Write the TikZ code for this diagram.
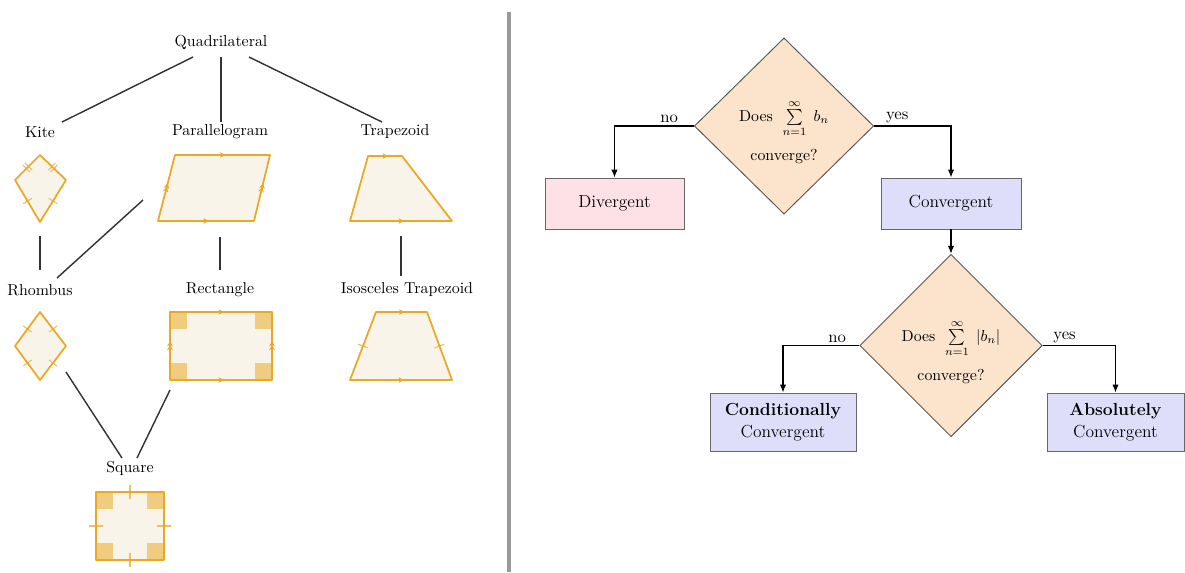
\documentclass[tikz,border=0pt]{standalone}
\usetikzlibrary{shapes.geometric,arrows.meta,decorations.markings,calc}
\definecolor{shapeline}{HTML}{E9A825}
\definecolor{shapefill}{HTML}{F8F4EA}
\definecolor{tickcol}{HTML}{F0BE5A}
\definecolor{rightcol}{HTML}{F0CD7E}
\definecolor{peach}{HTML}{FCE4CC}
\definecolor{pinkbox}{HTML}{FDE1E6}
\definecolor{bluebox}{HTML}{DEDEFB}
\tikzset{
  quadfill/.style={fill=shapefill},
  quadline/.style={draw=shapeline, line width=1.1pt, line join=round},
  tickone/.style={postaction={decorate,decoration={markings,mark=at position 0.5 with {\draw[tickcol,line width=0.7pt] (0,-3.2pt)--(0,3.2pt);}}}},
  ticklong/.style={postaction={decorate,decoration={markings,mark=at position 0.5 with {\draw[tickcol,line width=0.7pt] (0,-4.4pt)--(0,4.4pt);}}}},
  ticktwo/.style={postaction={decorate,decoration={markings,mark=at position 0.5 with {\draw[tickcol,line width=0.7pt] (-0.9pt,-3.2pt)--(-0.9pt,3.2pt) (0.9pt,-3.2pt)--(0.9pt,3.2pt);}}}},
  arrowone/.style={postaction={decorate,decoration={markings,mark=at position 0.5 with {\fill[shapeline] (-1.6pt,-1.8pt)--(1.8pt,0)--(-1.6pt,1.8pt)--(-0.6pt,0)--cycle;}}}},
  arrowtwo/.style={postaction={decorate,decoration={markings,mark=at position 0.5 with {\fill[shapeline] (-2.6pt,-1.8pt)--(0.8pt,0)--(-2.6pt,1.8pt)--(-1.6pt,0)--cycle (-0.2pt,-1.8pt)--(3.2pt,0)--(-0.2pt,1.8pt)--(0.8pt,0)--cycle;}}}},
  lbl/.style={inner sep=1pt, font=\fontsize{10}{12}\selectfont},
  tree/.style={draw=black!80, line width=0.9pt},
  dia/.style={diamond, draw=black!65, fill=peach, inner sep=0pt, align=center, font=\fontsize{10}{12}\selectfont, line width=0.6pt},
  fbox/.style={rectangle, draw=black!60, line width=0.6pt, align=center, inner sep=1pt, font=\fontsize{11}{13.5}\selectfont},
  flow/.style={draw=black, line width=0.8pt, -{Latex[length=5pt,width=4pt]}},
  elab/.style={font=\fontsize{10.5}{12}\selectfont, inner sep=1.5pt}
}
\begin{document}
\begin{tikzpicture}[x=0.63pt,y=-0.63pt]
\useasboundingbox (0,0) rectangle (1185,572);

% separator
\draw[black!40, line width=2pt] (509,12) -- (509,572);

% ---------- labels ----------
\node[lbl] (quad) at (221,42) {Quadrilateral};
\node[lbl] (kite) at (40,132) {Kite};
\node[lbl] (para) at (220,132) {Parallelogram};
\node[lbl] (trap) at (395,132) {Trapezoid};
\node[lbl] (rhom) at (40,290) {Rhombus};
\node[lbl] (rect) at (220,290) {Rectangle};
\node[lbl] (iso) at (407,290) {Isosceles Trapezoid};
\node[lbl] (sq) at (130,468) {Square};

% ---------- connector ends ----------
\coordinate (q1) at (193,57); \coordinate (k1) at (62,122);
\coordinate (q2) at (221,57); \coordinate (p1) at (221,122);
\coordinate (q3) at (249,57); \coordinate (t1) at (382,122);
\coordinate (k2) at (40,236); \coordinate (r1) at (40,270);
\coordinate (p2) at (143,200); \coordinate (r2) at (57,278);
\coordinate (p3) at (220,237); \coordinate (re1) at (220,270);
\coordinate (t2) at (401,236); \coordinate (i1) at (401,276);
\coordinate (r3) at (66,372); \coordinate (s1) at (122,458);
\coordinate (re2) at (170,390); \coordinate (s2) at (137,458);
\draw[tree] (q1) -- (k1);
\draw[tree] (q2) -- (p1);
\draw[tree] (q3) -- (t1);
\draw[tree] (k2) -- (r1);
\draw[tree] (p2) -- (r2);
\draw[tree] (p3) -- (re1);
\draw[tree] (t2) -- (i1);
\draw[tree] (r3) -- (s1);
\draw[tree] (re2) -- (s2);

% ---------- Kite ----------
\coordinate (kT) at (40,155); \coordinate (kR) at (66,180);
\coordinate (kB) at (40,222); \coordinate (kL) at (15,180);
\fill[quadfill] (kT)--(kR)--(kB)--(kL)--cycle;
\path[ticktwo] (kL)--(kT);
\path[ticktwo] (kT)--(kR);
\path[tickone] (kR)--(kB);
\path[tickone] (kB)--(kL);
\draw[quadline] (kT)--(kR)--(kB)--(kL)--cycle;

% ---------- Parallelogram ----------
\coordinate (pA) at (158,221); \coordinate (pB) at (254,221);
\coordinate (pC) at (270,155); \coordinate (pD) at (175,155);
\fill[quadfill] (pA)--(pB)--(pC)--(pD)--cycle;
\draw[quadline] (pA)--(pB)--(pC)--(pD)--cycle;
\path[arrowone] (pA)--(pB);
\path[arrowone] (pD)--(pC);
\path[arrowtwo] (pA)--(pD);
\path[arrowtwo] (pB)--(pC);

% ---------- Trapezoid ----------
\coordinate (tA) at (350,221); \coordinate (tB) at (452,221);
\coordinate (tC) at (402,156); \coordinate (tD) at (368,156);
\fill[quadfill] (tA)--(tB)--(tC)--(tD)--cycle;
\draw[quadline] (tA)--(tB)--(tC)--(tD)--cycle;
\path[arrowone] (tA)--(tB);
\path[arrowone] (tD)--(tC);

% ---------- Rhombus ----------
\coordinate (hT) at (40,312); \coordinate (hR) at (66,346);
\coordinate (hB) at (40,380); \coordinate (hL) at (15,346);
\fill[quadfill] (hT)--(hR)--(hB)--(hL)--cycle;
\path[tickone] (hL)--(hT);
\path[tickone] (hT)--(hR);
\path[tickone] (hR)--(hB);
\path[tickone] (hB)--(hL);
\draw[quadline] (hT)--(hR)--(hB)--(hL)--cycle;

% ---------- Rectangle ----------
\fill[quadfill] (170,312) rectangle (272,380);
\fill[rightcol] (170,312) rectangle (187,329);
\fill[rightcol] (272,312) rectangle (255,329);
\fill[rightcol] (170,380) rectangle (187,363);
\fill[rightcol] (272,380) rectangle (255,363);
\draw[quadline] (170,312) rectangle (272,380);
\path[arrowone] (170,380)--(272,380);
\path[arrowone] (170,312)--(272,312);
\path[arrowtwo] (170,380)--(170,312);
\path[arrowtwo] (272,380)--(272,312);

% ---------- Isosceles trapezoid ----------
\coordinate (iA) at (350,380); \coordinate (iB) at (452,380);
\coordinate (iC) at (427,312); \coordinate (iD) at (376,312);
\fill[quadfill] (iA)--(iB)--(iC)--(iD)--cycle;
\path[tickone] (iA)--(iD);
\path[tickone] (iB)--(iC);
\draw[quadline] (iA)--(iB)--(iC)--(iD)--cycle;
\path[arrowone] (iA)--(iB);
\path[arrowone] (iD)--(iC);

% ---------- Square ----------
\fill[quadfill] (96,492) rectangle (164,560);
\fill[rightcol] (96,492) rectangle (113,509);
\fill[rightcol] (164,492) rectangle (147,509);
\fill[rightcol] (96,560) rectangle (113,543);
\fill[rightcol] (164,560) rectangle (147,543);
\path[ticklong] (96,492)--(164,492);
\path[ticklong] (96,560)--(164,560);
\path[ticklong] (96,492)--(96,560);
\path[ticklong] (164,492)--(164,560);
\draw[quadline] (96,492) rectangle (164,560);

% ---------- Flowchart ----------
\node[dia, minimum width=113pt, minimum height=111pt] (d1) at (784,126) {};
\node[font=\fontsize{10}{12}\selectfont, align=center, inner sep=0pt] (t1txt) at (784,132)
  {Does\; $\sum\limits_{n=1}^{\infty}\; b_n$\\[7pt] converge?};
\node[fbox, fill=pinkbox, minimum width=87.6pt, minimum height=32.1pt] (div) at (614.5,203.5) {Divergent};
\node[fbox, fill=bluebox, minimum width=88.2pt, minimum height=32.1pt] (conv) at (951,203.5) {Convergent};
\node[dia, minimum width=115pt, minimum height=115pt] (d2) at (951,345.5) {};
\node[font=\fontsize{10}{12}\selectfont, align=center, inner sep=0pt] (t2txt) at (951,352)
  {Does\; $\sum\limits_{n=1}^{\infty}\; |b_n|$\\[7pt] converge?};
\node[fbox, fill=bluebox, minimum width=92pt, minimum height=36.5pt] (cond) at (783,422) {\textbf{Conditionally}\\Convergent};
\node[fbox, fill=bluebox, minimum width=86.3pt, minimum height=36.5pt] (abs) at (1115.5,422) {\textbf{Absolutely}\\Convergent};

\coordinate (c1) at (d1.west -| div.north);
\coordinate (c2) at (d1.east -| conv.north);
\coordinate (c3) at (d2.west -| cond.north);
\coordinate (c4) at (d2.east -| abs.north);
\draw[flow] (d1.west) -- node[elab, above, pos=0.31] {no} (c1) -- (div.north);
\draw[flow] (d1.east) -- node[elab, above, pos=0.3] {yes} (c2) -- (conv.north);
\draw[flow] (conv.south) -- (d2.north);
\draw[flow] (d2.west) -- node[elab, above, pos=0.29] {no} (c3) -- (cond.north);
\draw[flow] (d2.east) -- node[elab, above, pos=0.3] {yes} (c4) -- (abs.north);
\end{tikzpicture}
\end{document}
